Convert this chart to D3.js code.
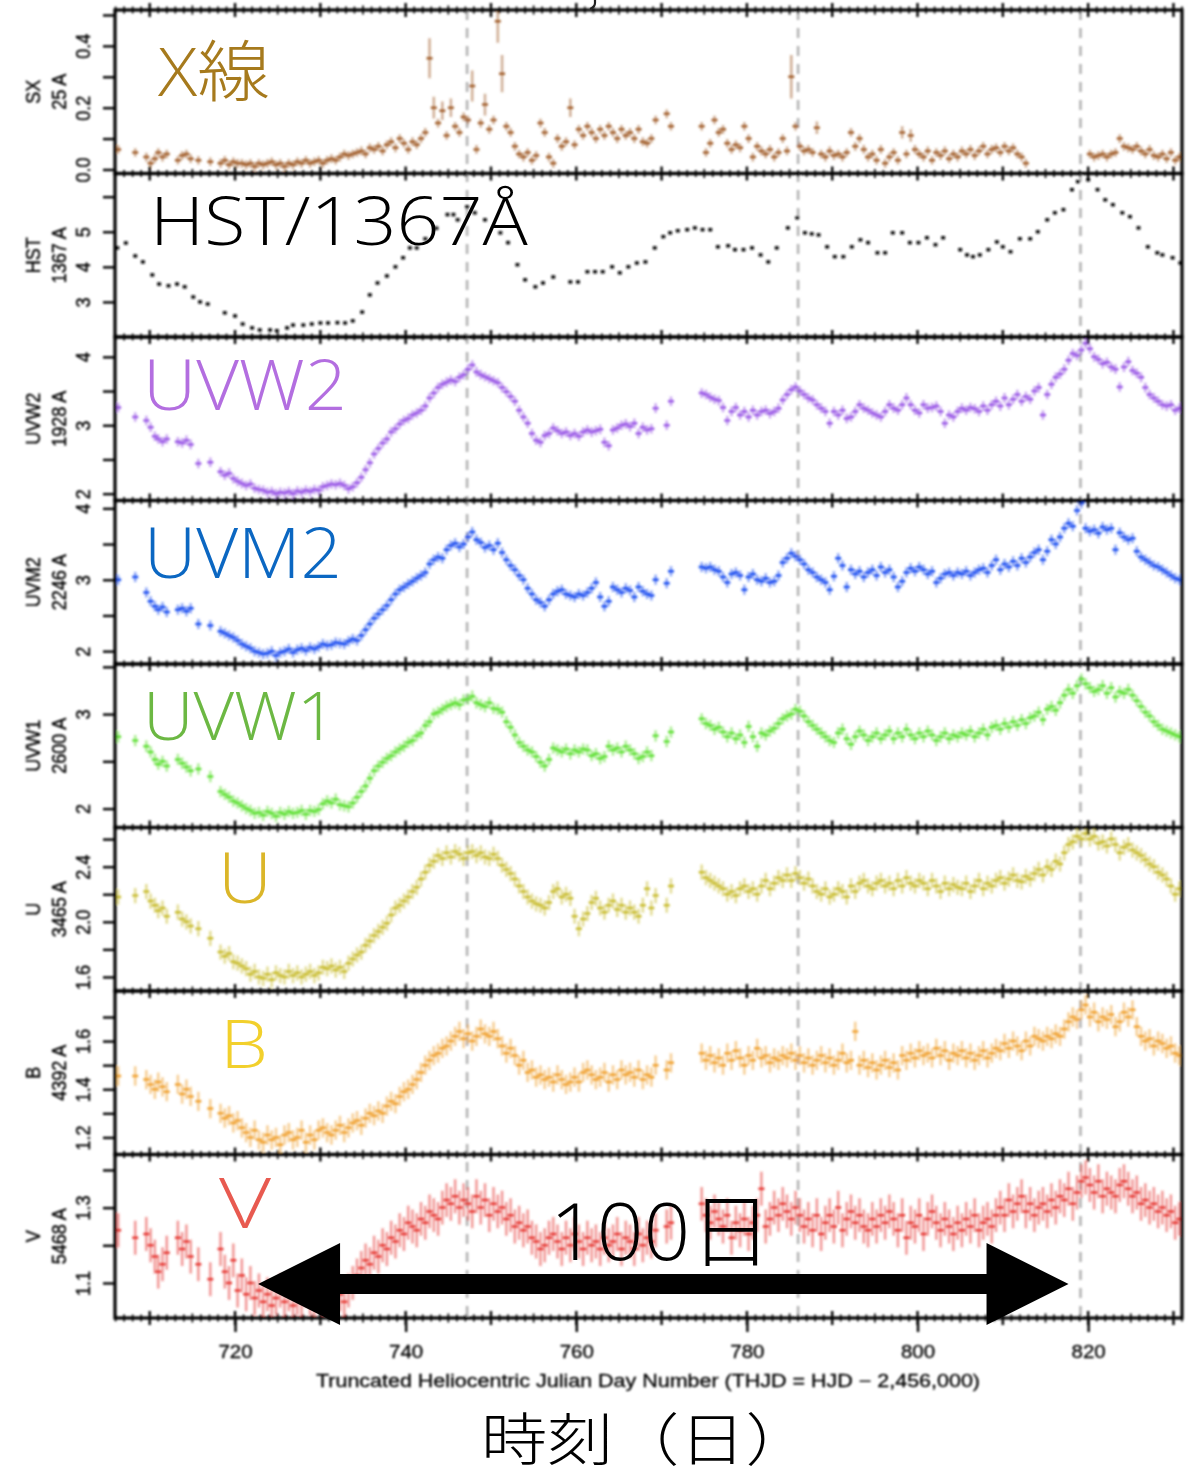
<!DOCTYPE html>
<html>
<head>
<meta charset="utf-8">
<script src="https://cdn.jsdelivr.net/npm/d3@7"></script>
<style>
  body { margin: 0; background: #fff; }
  svg { display: block; }
</style>
</head>
<body>
<svg id="chart" width="1190" height="1477"></svg>
<script>
// ---------------------------------------------------------------------------
// Light curves (THJD = HJD - 2,456,000)
// ---------------------------------------------------------------------------

// Swift epochs shared by the XRT and UVOT bands
const swiftDays = [
  706.3, 708.3, 709.6, 710.1, 710.6, 711.0, 711.5, 712.0, 713.3, 713.8,
  714.3, 714.8, 715.7, 717.1, 718.3, 718.8, 719.3, 719.8, 720.3, 720.8,
  721.3, 721.8, 722.3, 722.8, 723.3, 723.8, 724.3, 724.8, 725.3, 725.8,
  726.3, 726.8, 727.3, 727.8, 728.3, 728.8, 729.3, 729.8, 730.3, 730.8,
  731.3, 731.8, 732.3, 732.8, 733.3, 733.8, 734.3, 734.8, 735.3, 735.8,
  736.3, 736.8, 737.3, 737.8, 738.3, 738.8, 739.3, 739.8, 740.3, 740.8,
  741.3, 741.8, 742.3, 742.8, 743.3, 743.8, 744.3, 744.8, 745.3, 745.8,
  746.3, 746.8, 747.3, 747.8, 748.3, 748.8, 749.3, 749.8, 750.3, 750.8,
  751.3, 751.8, 752.3, 752.8, 753.3, 753.8, 754.3, 754.8, 755.3, 755.8,
  756.3, 756.8, 757.3, 757.8, 758.3, 758.8, 759.3, 759.8, 760.3, 760.8,
  761.3, 761.8, 762.3, 762.8, 763.3, 763.8, 764.3, 764.8, 765.3, 765.8,
  766.3, 766.8, 767.3, 767.8, 768.3, 768.8, 769.3, 770.6, 771.1,
  774.7, 775.2, 775.7, 776.2, 776.7, 777.2, 777.7, 778.2, 778.7, 779.2,
  779.7, 780.2, 780.7, 781.2, 781.7, 782.2, 782.7, 783.2, 783.7, 784.2,
  784.7, 785.2, 785.7, 786.2, 786.7, 787.2, 787.7, 788.2, 788.7, 789.2,
  789.7, 790.2, 790.7, 791.2, 791.7, 792.2, 792.7, 793.2, 793.7, 794.2,
  794.7, 795.2, 795.7, 796.2, 796.7, 797.2, 797.7, 798.2, 798.7, 799.2,
  799.7, 800.2, 800.7, 801.2, 801.7, 802.2, 802.7, 803.2, 803.7, 804.2,
  804.7, 805.2, 805.7, 806.2, 806.7, 807.2, 807.7, 808.2, 808.7, 809.2,
  809.7, 810.2, 810.7, 811.2, 811.7, 812.2, 812.7, 813.2, 813.7, 814.2,
  814.7, 815.2, 815.7, 816.2, 816.7, 817.2, 817.7, 818.2, 818.7, 819.2,
  819.7, 820.2, 820.7, 821.2, 821.7, 822.2, 822.7, 823.2, 823.7, 824.2,
  824.7, 825.2, 825.7, 826.2, 826.7, 827.2, 827.7, 828.2, 828.7, 829.2,
  829.7, 830.2, 830.7
];

// Soft X-ray (25 A); null where XRT has no data
const sxFlux = [
  0.065, 0.055, 0.04, 0.02, 0.035, 0.055, 0.04, 0.05, 0.03, 0.045,
  0.05, 0.035, 0.03, 0.025, 0.02, 0.03, 0.015, 0.025, 0.02, 0.02,
  0.015, 0.02, 0.01, 0.02, 0.015, 0.02, 0.025, 0.015, 0.02, 0.01,
  0.02, 0.015, 0.025, 0.02, 0.03, 0.02, 0.025, 0.03, 0.02, 0.03,
  0.035, 0.03, 0.04, 0.05, 0.045, 0.05, 0.055, 0.06, 0.05, 0.07,
  0.065, 0.075, 0.06, 0.08, 0.09, 0.07, 0.10, 0.085, 0.065, 0.09,
  0.08, 0.10, 0.12, 0.36, 0.20, 0.15, 0.19, 0.11, 0.20, 0.14,
  0.12, 0.17, 0.16, 0.27, 0.065, 0.15, 0.21, 0.13, 0.16, 0.48,
  0.31, 0.14, 0.12, 0.075, 0.05, 0.04, 0.055, 0.03, 0.045, 0.15,
  0.12, 0.04, 0.02, 0.10, 0.075, 0.09, 0.20, 0.08, 0.13, 0.11,
  0.14, 0.12, 0.10, 0.13, 0.11, 0.14, 0.12, 0.10, 0.13, 0.11,
  0.12, 0.10, 0.13, 0.09, 0.085, 0.10, 0.16, 0.18, 0.14,
  0.14, 0.055, 0.085, 0.16, 0.12, 0.13, 0.085, 0.065, 0.08, 0.07,
  0.14, 0.10, 0.04, 0.075, 0.06, 0.05, 0.065, 0.04, 0.055, 0.10,
  0.06, 0.30, 0.14, 0.075, 0.06, 0.065, 0.055, 0.135, 0.05, 0.04,
  0.06, 0.045, 0.05, 0.04, 0.055, 0.12, 0.075, 0.10, 0.065, 0.04,
  0.05, 0.03, 0.065, 0.02, 0.04, 0.055, 0.03, 0.12, 0.05, 0.11,
  0.065, 0.05, 0.04, 0.06, 0.03, 0.055, 0.045, 0.06, 0.035, 0.05,
  0.04, 0.06, 0.05, 0.065, 0.045, 0.06, 0.075, 0.05, 0.065, 0.07,
  0.055, 0.075, 0.06, 0.07, 0.05, 0.04, 0.02, null, null, null,
  null, null, null, null, null, null, null, null, null, null,
  null, 0.05, 0.04, 0.045, 0.05, 0.04, 0.05, 0.055, 0.10, 0.075,
  0.07, 0.065, 0.075, 0.06, 0.05, 0.065, 0.045, 0.04, 0.05, 0.035,
  0.055, 0.03, 0.04
];
// larger X-ray uncertainties during the flares (keyed by epoch)
const sxErrByDay = {
  "742.8": 0.065, "743.3": 0.035, "744.3": 0.03, "745.3": 0.03, "747.8": 0.05,
  "749.3": 0.035, "750.8": 0.07, "751.3": 0.06, "759.3": 0.03, "785.2": 0.07,
  "788.2": 0.02, "798.2": 0.02, "799.2": 0.02
};
const sxErr = 0.014;

const uvw2Flux = [
  3.26, 3.12, 3.07, 2.97, 2.84, 2.80, 2.76, 2.80, 2.76, 2.74,
  2.78, 2.72, 2.44, 2.46, 2.32, 2.27, 2.30, 2.22, 2.18, 2.15,
  2.12, 2.14, 2.08, 2.06, 2.05, 2.02, 2.03, 2.00, 2.02, 2.01,
  2.03, 2.00, 2.04, 2.02, 2.05, 2.03, 2.06, 2.05, 2.10, 2.12,
  2.14, 2.13, 2.15, 2.12, 2.07, 2.10, 2.16, 2.24, 2.35, 2.45,
  2.58, 2.66, 2.74, 2.80, 2.90, 2.95, 3.02, 3.07, 3.10, 3.15,
  3.18, 3.22, 3.28, 3.40, 3.47, 3.55, 3.60, 3.63, 3.66, 3.64,
  3.70, 3.74, 3.82, 3.88, 3.78, 3.74, 3.71, 3.68, 3.65, 3.62,
  3.55, 3.49, 3.42, 3.35, 3.22, 3.12, 3.03, 2.88, 2.78, 2.75,
  2.85, 2.88, 2.96, 2.92, 2.88, 2.90, 2.85, 2.88, 2.84, 2.90,
  2.93, 2.90, 2.92, 2.94, 2.75, 2.70, 2.93, 2.96, 3.00, 3.02,
  2.98, 3.03, 2.88, 2.97, 2.93, 2.95, 3.25, 3.00, 3.35,
  3.47, 3.45, 3.41, 3.38, 3.36, 3.26, 3.07, 3.20, 3.26, 3.15,
  3.20, 3.12, 3.22, 3.15, 3.20, 3.22, 3.17, 3.20, 3.25, 3.37,
  3.45, 3.52, 3.56, 3.50, 3.45, 3.40, 3.37, 3.30, 3.25, 3.20,
  3.03, 3.20, 3.15, 3.22, 3.10, 3.12, 3.20, 3.30, 3.25, 3.22,
  3.18, 3.15, 3.12, 3.20, 3.30, 3.25, 3.22, 3.30, 3.40, 3.30,
  3.22, 3.18, 3.30, 3.25, 3.26, 3.28, 3.20, 3.03, 3.15, 3.12,
  3.20, 3.25, 3.22, 3.26, 3.24, 3.20, 3.28, 3.22, 3.30, 3.35,
  3.28, 3.40, 3.30, 3.38, 3.45, 3.35, 3.42, 3.38, 3.50, 3.55,
  3.15, 3.45, 3.60, 3.70, 3.75, 3.82, 3.95, 4.05, 4.02, 4.10,
  4.20, 4.12, 4.00, 3.96, 3.90, 3.92, 3.85, 3.82, 3.56, 3.85,
  3.93, 3.80, 3.76, 3.70, 3.55, 3.45, 3.40, 3.35, 3.30, 3.28,
  3.30, 3.22, 3.25
];

const uvm2Flux = [
  3.00, 3.04, 2.82, 2.70, 2.63, 2.58, 2.62, 2.55, 2.58, 2.60,
  2.56, 2.60, 2.38, 2.36, 2.28, 2.25, 2.22, 2.19, 2.15, 2.10,
  2.07, 2.04, 2.00, 1.98, 1.96, 1.97, 2.00, 1.94, 1.98, 2.00,
  2.03, 1.98, 2.02, 2.04, 2.01, 2.05, 2.03, 2.06, 2.10, 2.08,
  2.09, 2.12, 2.11, 2.10, 2.14, 2.17, 2.15, 2.22, 2.30, 2.38,
  2.46, 2.52, 2.58, 2.64, 2.72, 2.80, 2.86, 2.90, 2.94, 2.98,
  3.02, 3.06, 3.10, 3.22, 3.28, 3.32, 3.30, 3.42, 3.48, 3.51,
  3.46, 3.50, 3.60, 3.67, 3.56, 3.52, 3.45, 3.48, 3.42, 3.51,
  3.38, 3.28, 3.20, 3.14, 3.06, 3.00, 2.88, 2.80, 2.72, 2.68,
  2.63, 2.72, 2.80, 2.84, 2.86, 2.80, 2.78, 2.76, 2.80, 2.78,
  2.82, 2.88, 2.96, 2.76, 2.63, 2.70, 2.90, 2.86, 2.82, 2.88,
  2.85, 2.76, 2.90, 2.84, 2.80, 2.78, 3.00, 2.95, 3.12,
  3.18, 3.16, 3.18, 3.14, 3.12, 3.04, 2.96, 3.08, 3.10, 3.06,
  2.86, 3.04, 3.08, 3.00, 2.98, 3.02, 2.96, 2.98, 3.06, 3.24,
  3.30, 3.37, 3.33, 3.28, 3.22, 3.14, 3.10, 3.04, 3.00, 2.96,
  2.86, 3.05, 3.30, 3.20, 2.90, 3.14, 3.08, 3.12, 3.04, 3.10,
  3.14, 3.06, 3.18, 3.10, 3.14, 3.04, 2.90, 2.98, 3.10, 3.16,
  3.12, 3.18, 3.14, 3.08, 3.12, 2.96, 3.02, 3.08, 3.10, 3.06,
  3.10, 3.08, 3.12, 3.06, 3.10, 3.14, 3.16, 3.10, 3.20, 3.28,
  3.14, 3.22, 3.18, 3.26, 3.20, 3.30, 3.24, 3.32, 3.38, 3.42,
  3.28, 3.40, 3.56, 3.50, 3.60, 3.72, 3.79, 3.75, 3.97, 4.07,
  3.72, 3.68, 3.70, 3.65, 3.74, 3.70, 3.72, 3.42, 3.66, 3.60,
  3.56, 3.58, 3.40, 3.32, 3.28, 3.24, 3.20, 3.18, 3.14, 3.10,
  3.06, 3.02, 3.00
];

const uvw1Flux = [
  2.76, 2.72, 2.66, 2.60, 2.52, 2.47, 2.50, 2.45, 2.52, 2.48,
  2.44, 2.40, 2.42, 2.34, 2.18, 2.15, 2.12, 2.08, 2.06, 2.03,
  2.00, 1.98, 1.95, 1.96, 1.93, 1.97, 1.95, 1.92, 1.96, 1.94,
  1.97, 1.95, 1.96, 1.98, 1.94, 1.98, 1.97, 1.99, 2.05, 2.08,
  2.06, 2.10, 2.04, 2.03, 2.02, 2.06, 2.12, 2.18, 2.24, 2.32,
  2.40, 2.45, 2.49, 2.53, 2.56, 2.60, 2.63, 2.66, 2.70, 2.72,
  2.77, 2.80, 2.88, 2.92, 3.00, 3.02, 3.05, 3.08, 3.10, 3.12,
  3.10, 3.15, 3.16, 3.19, 3.12, 3.10, 3.08, 3.12, 3.06, 3.05,
  3.02, 2.92, 2.86, 2.78, 2.70, 2.66, 2.62, 2.60, 2.55, 2.49,
  2.45, 2.52, 2.64, 2.62, 2.60, 2.63, 2.58, 2.62, 2.60, 2.63,
  2.62, 2.56, 2.58, 2.53, 2.55, 2.66, 2.62, 2.64, 2.60, 2.66,
  2.62, 2.58, 2.53, 2.55, 2.60, 2.56, 2.77, 2.71, 2.81,
  2.95, 2.90, 2.88, 2.84, 2.86, 2.81, 2.76, 2.80, 2.74, 2.78,
  2.70, 2.87, 2.76, 2.66, 2.80, 2.78, 2.82, 2.85, 2.90, 2.95,
  2.98, 3.00, 3.05, 3.03, 2.98, 2.92, 2.88, 2.84, 2.80, 2.76,
  2.72, 2.70, 2.80, 2.84, 2.74, 2.68, 2.76, 2.82, 2.78, 2.72,
  2.76, 2.80, 2.74, 2.78, 2.82, 2.74, 2.80, 2.76, 2.84, 2.78,
  2.74, 2.80, 2.76, 2.82, 2.78, 2.72, 2.76, 2.80, 2.74, 2.78,
  2.76, 2.80, 2.78, 2.82, 2.76, 2.80, 2.84, 2.78, 2.86, 2.88,
  2.84, 2.90, 2.86, 2.92, 2.88, 2.94, 2.90, 2.96, 2.98, 3.02,
  2.94, 3.05, 3.08, 3.04, 3.12, 3.20, 3.26, 3.22, 3.30, 3.37,
  3.32, 3.28, 3.24, 3.26, 3.30, 3.22, 3.28, 3.18, 3.24, 3.22,
  3.26, 3.20, 3.14, 3.08, 3.02, 2.98, 2.92, 2.88, 2.84, 2.82,
  2.80, 2.78, 2.76
];

const uFlux = [
  2.18, 2.19, 2.22, 2.15, 2.12, 2.08, 2.10, 2.04, 2.07, 2.02,
  2.00, 1.97, 1.95, 1.88, 1.78, 1.75, 1.77, 1.71, 1.70, 1.68,
  1.66, 1.62, 1.64, 1.60, 1.59, 1.62, 1.58, 1.63, 1.61, 1.60,
  1.64, 1.61, 1.63, 1.60, 1.62, 1.64, 1.61, 1.63, 1.67, 1.66,
  1.68, 1.65, 1.67, 1.64, 1.70, 1.73, 1.76, 1.78, 1.83, 1.86,
  1.90, 1.93, 1.96, 1.99, 2.05, 2.10, 2.12, 2.15, 2.18, 2.22,
  2.25, 2.31, 2.36, 2.41, 2.44, 2.48, 2.46, 2.50, 2.47, 2.51,
  2.49, 2.46, 2.50, 2.51, 2.48, 2.50, 2.47, 2.46, 2.49, 2.46,
  2.41, 2.38, 2.35, 2.31, 2.26, 2.22, 2.18, 2.15, 2.13, 2.12,
  2.10, 2.14, 2.22, 2.24, 2.18, 2.20, 2.17, 2.04, 1.95, 2.02,
  2.06, 2.14, 2.17, 2.10, 2.07, 2.12, 2.15, 2.09, 2.12, 2.07,
  2.10, 2.07, 2.04, 2.12, 2.24, 2.10, 2.19, 2.12, 2.26,
  2.36, 2.32, 2.30, 2.28, 2.26, 2.24, 2.20, 2.22, 2.19, 2.24,
  2.26, 2.22, 2.24, 2.20, 2.26, 2.30, 2.24, 2.28, 2.32, 2.30,
  2.34, 2.30, 2.35, 2.32, 2.28, 2.31, 2.26, 2.22, 2.20, 2.24,
  2.18, 2.20, 2.24, 2.22, 2.18, 2.26, 2.22, 2.28, 2.30, 2.26,
  2.24, 2.28, 2.30, 2.26, 2.28, 2.24, 2.30, 2.26, 2.32, 2.28,
  2.26, 2.30, 2.28, 2.24, 2.30, 2.26, 2.22, 2.28, 2.24, 2.27,
  2.25, 2.24, 2.28, 2.22, 2.26, 2.30, 2.24, 2.28, 2.26, 2.30,
  2.32, 2.28, 2.31, 2.34, 2.30, 2.29, 2.33, 2.31, 2.35, 2.38,
  2.34, 2.40, 2.38, 2.44, 2.42, 2.50, 2.56, 2.58, 2.62, 2.60,
  2.64, 2.60, 2.62, 2.57, 2.58, 2.55, 2.60, 2.56, 2.50, 2.54,
  2.56, 2.52, 2.50, 2.48, 2.45, 2.42, 2.40, 2.36, 2.34, 2.31,
  2.26, 2.20, 2.24
];

const bFlux = [
  1.455, 1.455, 1.44, 1.42, 1.40, 1.43, 1.41, 1.39, 1.42, 1.38,
  1.40, 1.37, 1.35, 1.32, 1.30, 1.28, 1.29, 1.26, 1.27, 1.24,
  1.22, 1.20, 1.23, 1.19, 1.18, 1.21, 1.19, 1.20, 1.17, 1.21,
  1.22, 1.19, 1.20, 1.23, 1.18, 1.21, 1.19, 1.23, 1.24, 1.22,
  1.21, 1.23, 1.25, 1.22, 1.24, 1.26, 1.27, 1.25, 1.28, 1.30,
  1.29, 1.31, 1.30, 1.33, 1.35, 1.34, 1.37, 1.39, 1.40, 1.42,
  1.44, 1.47, 1.50, 1.52, 1.54, 1.55, 1.57, 1.58, 1.60, 1.62,
  1.64, 1.61, 1.63, 1.60, 1.62, 1.65, 1.63, 1.62, 1.64, 1.61,
  1.58, 1.55, 1.57, 1.54, 1.50, 1.52, 1.47, 1.48, 1.45, 1.46,
  1.44, 1.45, 1.43, 1.46, 1.44, 1.42, 1.43, 1.45, 1.43, 1.47,
  1.48, 1.46, 1.44, 1.45, 1.47, 1.43, 1.46, 1.44, 1.48, 1.46,
  1.47, 1.45, 1.48, 1.44, 1.46, 1.45, 1.50, 1.48, 1.51,
  1.55, 1.52, 1.54, 1.51, 1.53, 1.50, 1.55, 1.52, 1.56, 1.53,
  1.50, 1.54, 1.52, 1.57, 1.53, 1.54, 1.51, 1.53, 1.52, 1.54,
  1.53, 1.55, 1.52, 1.54, 1.51, 1.53, 1.50, 1.52, 1.54, 1.51,
  1.53, 1.50, 1.52, 1.55, 1.51, 1.52, 1.64, 1.50, 1.52, 1.49,
  1.51, 1.48, 1.50, 1.52, 1.49, 1.51, 1.48, 1.54, 1.52, 1.55,
  1.53, 1.56, 1.54, 1.55, 1.53, 1.57, 1.54, 1.56, 1.52, 1.55,
  1.54, 1.56, 1.53, 1.55, 1.52, 1.54, 1.56, 1.53, 1.55, 1.57,
  1.56, 1.59, 1.57, 1.60, 1.58, 1.56, 1.60, 1.58, 1.62, 1.61,
  1.60, 1.62, 1.61, 1.63, 1.62, 1.65, 1.68, 1.70, 1.69, 1.73,
  1.75, 1.70, 1.72, 1.68, 1.70, 1.69, 1.71, 1.66, 1.68, 1.72,
  1.70, 1.73, 1.66, 1.62, 1.60, 1.61, 1.58, 1.60, 1.59, 1.57,
  1.58, 1.55, 1.54
];

const vFlux = [
  1.24, 1.22, 1.23, 1.20, 1.17, 1.13, 1.15, 1.18, 1.22, 1.19,
  1.21, 1.17, 1.15, 1.11, 1.19, 1.13, 1.10, 1.16, 1.08, 1.12,
  1.07, 1.10, 1.06, 1.08, 1.05, 1.07, 1.04, 1.06, 1.08, 1.05,
  1.07, 1.04, 1.06, 1.05, 1.08, 1.06, 1.04, 1.07, 1.05, 1.08,
  1.06, 1.09, 1.07, 1.05, 1.08, 1.10, 1.12, 1.14, 1.16, 1.15,
  1.18, 1.17, 1.20, 1.19, 1.22, 1.21, 1.24, 1.23, 1.26, 1.25,
  1.24, 1.27, 1.26, 1.29, 1.28, 1.27, 1.30, 1.32, 1.31, 1.33,
  1.30, 1.32, 1.31, 1.29, 1.33, 1.30, 1.32, 1.28, 1.31, 1.29,
  1.30, 1.27, 1.28, 1.25, 1.26, 1.24, 1.25, 1.22, 1.21, 1.19,
  1.20, 1.22, 1.23, 1.21, 1.19, 1.22, 1.20, 1.23, 1.21, 1.19,
  1.22, 1.20, 1.21, 1.19, 1.22, 1.20, 1.21, 1.23, 1.19, 1.22,
  1.21, 1.19, 1.23, 1.20, 1.22, 1.21, 1.24, 1.25, 1.26,
  1.31, 1.28, 1.26, 1.29, 1.27, 1.25, 1.28, 1.22, 1.26, 1.24,
  1.27, 1.23, 1.26, 1.28, 1.35, 1.25, 1.27, 1.30, 1.28, 1.31,
  1.29, 1.27, 1.30, 1.28, 1.25, 1.27, 1.24, 1.28, 1.23, 1.26,
  1.28, 1.25, 1.30, 1.24, 1.27, 1.29, 1.26, 1.28, 1.25, 1.24,
  1.27, 1.25, 1.28, 1.26, 1.29, 1.27, 1.24, 1.28, 1.22, 1.26,
  1.25, 1.28, 1.23, 1.27, 1.29, 1.26, 1.24, 1.27, 1.25, 1.23,
  1.26, 1.24, 1.27, 1.25, 1.28, 1.24, 1.26, 1.27, 1.25, 1.28,
  1.30, 1.28, 1.32, 1.29, 1.31, 1.33, 1.29, 1.31, 1.28, 1.30,
  1.31, 1.29, 1.32, 1.30, 1.33, 1.32, 1.35, 1.31, 1.34, 1.37,
  1.38, 1.36, 1.34, 1.37, 1.33, 1.35, 1.34, 1.33, 1.36, 1.37,
  1.35, 1.33, 1.34, 1.31, 1.32, 1.30, 1.31, 1.29, 1.30, 1.28,
  1.29, 1.26, 1.27
];

// HST/COS continuum at 1367 A (roughly daily visits)
const hstDays = [
  706.2, 707.2, 708.3, 709.2, 710.3, 711.1, 712.2, 713.2, 714.1, 715.1,
  715.9, 716.8, 718.8, 720.0, 720.9, 722.0, 722.9, 724.1, 724.9, 726.1,
  726.8, 728.0, 729.0, 730.0, 730.9, 732.0, 732.9, 733.8, 734.9, 735.8,
  736.7, 737.8, 738.8, 739.7, 740.5, 741.3, 742.3, 743.6, 744.9, 745.6,
  746.1, 747.2, 748.1, 749.3, 751.1, 752.0, 753.1, 754.0, 755.2, 756.1,
  757.3, 759.3, 760.2, 761.3, 762.2, 763.1, 764.2, 765.1, 766.1, 767.1,
  768.1, 769.2, 770.2, 771.0, 771.9, 773.0, 773.9, 774.8, 775.7, 776.6,
  777.8, 778.6, 779.6, 780.6, 781.6, 782.5, 783.5, 784.8, 785.9, 786.8,
  787.6, 788.4, 789.4, 790.3, 791.3, 792.3, 793.3, 794.2, 795.3, 796.2,
  797.1, 798.2, 799.1, 800.1, 801.1, 802.1, 803.0, 805.0, 805.8, 806.5,
  807.3, 808.3, 809.3, 810.0, 810.9, 812.0, 813.2, 814.1, 815.2, 816.1,
  817.1, 818.1, 818.8, 820.0, 821.1, 822.0, 822.9, 824.0, 824.9, 825.9,
  827.0, 828.1, 828.7, 829.9, 830.8
];
const hstFlux = [
  4.54, 4.68, 4.31, 4.14, 3.77, 3.51, 3.46, 3.51, 3.43, 3.14,
  3.00, 2.94, 2.69, 2.60, 2.37, 2.26, 2.20, 2.20, 2.18, 2.26,
  2.34, 2.34, 2.37, 2.40, 2.40, 2.41, 2.40, 2.46, 2.71, 3.20,
  3.54, 3.74, 4.00, 4.26, 4.54, 4.54, 4.80, 5.10, 5.49, 5.49,
  5.34, 5.71, 5.54, 5.34, 4.97, 4.69, 4.06, 3.63, 3.43, 3.54,
  3.71, 3.57, 3.57, 3.86, 3.86, 3.86, 4.00, 3.83, 4.00, 4.11,
  4.14, 4.54, 4.86, 4.97, 5.03, 5.06, 5.11, 5.06, 5.06, 4.57,
  4.60, 4.49, 4.49, 4.54, 4.34, 4.14, 4.54, 5.11, 5.40, 4.97,
  4.94, 4.91, 4.57, 4.29, 4.29, 4.57, 4.77, 4.69, 4.40, 4.40,
  4.97, 4.97, 4.69, 4.69, 4.83, 4.63, 4.83, 4.49, 4.34, 4.29,
  4.34, 4.49, 4.71, 4.57, 4.43, 4.80, 4.80, 5.00, 5.34, 5.54,
  5.63, 6.20, 6.43, 6.48, 6.20, 5.91, 5.77, 5.54, 5.43, 5.11,
  4.57, 4.40, 4.34, 4.26, 4.11
];

// Axis ticks and labels for each panel
const sxTicks = [0, 0.1, 0.2, 0.3, 0.4, 0.5];
const sxTickLabels = ["0.0", "", "0.2", "", "0.4", ""];
const hstTicks = [3, 4, 5, 6];
const hstTickLabels = ["3", "4", "5", ""];
const uvw2Ticks = [2, 2.5, 3, 3.5, 4];
const uvw2TickLabels = ["2", "", "3", "", "4"];
const uvm2Ticks = [2, 2.5, 3, 3.5, 4];
const uvm2TickLabels = ["2", "", "3", "", "4"];
const uvw1Ticks = [2, 2.5, 3, 3.5];
const uvw1TickLabels = ["2", "", "3", ""];
const uTicks = [1.6, 1.8, 2.0, 2.2, 2.4, 2.6];
const uTickLabels = ["1.6", "", "2.0", "", "2.4", ""];
const bTicks = [1.2, 1.3, 1.4, 1.5, 1.6, 1.7];
const bTickLabels = ["1.2", "", "1.4", "", "1.6", ""];
const vTicks = [1.1, 1.2, 1.3, 1.4];
const vTickLabels = ["1.1", "", "1.3", ""];

const dayTicks = [720, 740, 760, 780, 800, 820];
const dayTickLabels = ["720", "740", "760", "780", "800", "820"];

// Epochs marked with dashed guide lines
const guideDays = [747.2, 786.0, 819.1];

// Span of the annotated double arrow (days)
const spanStart = 722.7;
const spanEnd = 817.7;

// ---------------------------------------------------------------------------
// Layout
// ---------------------------------------------------------------------------
const svg = d3.select("#chart");
const plotLeft = 115, plotRight = 1182, plotTop = 10, panelH = 163.5;
const axisFont = "'Liberation Sans', Arial, Helvetica, sans-serif";
const labelFont = "'Open Sans', 'Noto Sans CJK JP', sans-serif";
const cjkFont = "'Noto Sans CJK JP', sans-serif";
const wide = 1.14;   // horizontal stretch of the axis lettering

const x = d3.scaleLinear().domain([705.93, 831.0]).range([plotLeft, plotRight]);

const panels = [
  { title: ["SX", "25 A"], days: swiftDays, vals: sxFlux, err: (t) => sxErrByDay[String(t)] ?? sxErr,
    color: "#a3612f", domain: [-0.013, 0.516], ticks: sxTicks, labels: sxTickLabels },
  { title: ["HST", "1367 A"], days: hstDays, vals: hstFlux, err: () => 0.05, dots: true,
    color: "#111", domain: [2.0, 6.66], ticks: hstTicks, labels: hstTickLabels },
  { title: ["UVW2", "1928 A"], days: swiftDays, vals: uvw2Flux, err: () => 0.07,
    color: "#9a58e6", domain: [1.90, 4.29], ticks: uvw2Ticks, labels: uvw2TickLabels },
  { title: ["UVM2", "2246 A"], days: swiftDays, vals: uvm2Flux, err: () => 0.07,
    color: "#1f4ff0", domain: [1.82, 4.11], ticks: uvm2Ticks, labels: uvm2TickLabels },
  { title: ["UVW1", "2600 A"], days: swiftDays, vals: uvw1Flux, err: () => 0.06,
    color: "#5fe034", domain: [1.80, 3.53], ticks: uvw1Ticks, labels: uvw1TickLabels },
  { title: ["U", "3465 A"], days: swiftDays, vals: uFlux, err: () => 0.055,
    color: "#c9bd33", domain: [1.498, 2.684], ticks: uTicks, labels: uTickLabels },
  { title: ["B", "4392 A"], days: swiftDays, vals: bFlux, err: () => 0.04,
    color: "#f0a233", domain: [1.129, 1.808], ticks: bTicks, labels: bTickLabels },
  { title: ["V", "5468 A"], days: swiftDays, vals: vFlux, err: () => 0.045,
    color: "#e63a36", domain: [1.007, 1.441], ticks: vTicks, labels: vTickLabels }
];

const defs = svg.append("defs");
defs.append("filter").attr("id", "soft")
  .attr("x", "-2%").attr("y", "-2%").attr("width", "104%").attr("height", "104%")
  .append("feGaussianBlur").attr("stdDeviation", 0.85);

const plot = svg.append("g").attr("filter", "url(#soft)");
const plotBottom = plotTop + panelH * panels.length;

// dashed guide lines behind the data
plot.append("g").selectAll("line").data(guideDays).join("line")
  .attr("x1", d => x(d)).attr("x2", d => x(d))
  .attr("y1", plotTop).attr("y2", plotBottom)
  .attr("stroke", "#b4b4b4").attr("stroke-width", 2.6)
  .attr("stroke-dasharray", "10,8");

panels.forEach((p, i) => {
  const top = plotTop + i * panelH;
  const bottom = top + panelH;
  const y = d3.scaleLinear().domain(p.domain).range([bottom, top]);
  const g = plot.append("g");

  const clipId = "clip" + i;
  defs.append("clipPath").attr("id", clipId)
    .append("rect").attr("x", plotLeft).attr("y", top).attr("width", plotRight - plotLeft).attr("height", panelH);

  const pts = p.days.map((t, k) => ({ t, v: p.vals[k], e: p.err(t) })).filter(d => d.v != null);
  const data = g.append("g").attr("clip-path", `url(#${clipId})`);

  if (p.dots) {
    data.append("g").selectAll("line").data(pts).join("line")
      .attr("x1", d => x(d.t)).attr("x2", d => x(d.t))
      .attr("y1", d => y(d.v - d.e)).attr("y2", d => y(d.v + d.e))
      .attr("stroke", p.color).attr("stroke-width", 1.3).attr("stroke-opacity", 0.6);
    data.append("g").selectAll("rect").data(pts).join("rect")
      .attr("x", d => x(d.t) - 2).attr("y", d => y(d.v) - 1.7)
      .attr("width", 4).attr("height", 3.4).attr("fill", p.color);
  } else {
    data.append("g").selectAll("line").data(pts).join("line")
      .attr("x1", d => x(d.t)).attr("x2", d => x(d.t))
      .attr("y1", d => y(d.v - d.e)).attr("y2", d => y(d.v + d.e))
      .attr("stroke", p.color).attr("stroke-width", 2.6).attr("stroke-opacity", 0.5);
    data.append("g").selectAll("line").data(pts).join("line")
      .attr("x1", d => x(d.t) - 3).attr("x2", d => x(d.t) + 3)
      .attr("y1", d => y(d.v)).attr("y2", d => y(d.v))
      .attr("stroke", p.color).attr("stroke-width", 2.5);
  }

  // left axis with rotated labels
  const yAxis = d3.axisLeft(y).tickValues(p.ticks).tickSize(12)
    .tickFormat((d, k) => p.labels[k]);
  const ax = g.append("g").attr("transform", `translate(${plotLeft},0)`).call(yAxis);
  ax.select(".domain").remove();
  ax.selectAll(".tick line").attr("stroke", "#000").attr("stroke-width", 2.4);
  ax.selectAll(".tick text")
    .attr("x", null).attr("y", null).attr("dy", null)
    .attr("text-anchor", "middle")
    .attr("transform", `translate(-25,0) scale(${wide},1) rotate(-90)`)
    .attr("font-family", axisFont).attr("font-size", 18).attr("fill", "#000")
    .attr("stroke", "#000").attr("stroke-width", 0.35);

  // two-line rotated panel title
  const midY = (top + bottom) / 2;
  p.title.forEach((line, k) => {
    g.append("text")
      .attr("transform", `translate(${k === 0 ? 40 : 66},${midY}) scale(${wide},1) rotate(-90)`)
      .attr("text-anchor", "middle")
      .attr("font-family", axisFont).attr("font-size", 18).attr("fill", "#000")
      .attr("stroke", "#000").attr("stroke-width", 0.35)
      .text(line);
  });
});

// minor / major day ticks crossing every horizontal frame line
const tickDays = d3.range(706, 832, 1);
const frameYs = d3.range(panels.length + 1).map(k => plotTop + k * panelH);
frameYs.forEach(fy => {
  plot.append("g").selectAll("line").data(tickDays).join("line")
    .attr("x1", d => x(d)).attr("x2", d => x(d))
    .attr("y1", d => fy - (d % 10 === 0 ? 7 : d % 5 === 0 ? 4.5 : 3.4))
    .attr("y2", d => fy + (d % 10 === 0 ? 7 : d % 5 === 0 ? 4.5 : 3.4))
    .attr("stroke", "#000").attr("stroke-width", d => d % 10 === 0 ? 2.4 : 1.7);
});

// panel frames
panels.forEach((p, i) => {
  plot.append("rect")
    .attr("x", plotLeft).attr("y", plotTop + i * panelH)
    .attr("width", plotRight - plotLeft).attr("height", panelH)
    .attr("fill", "none").attr("stroke", "#000").attr("stroke-width", 3.2);
});

// bottom time axis
const xAxis = d3.axisBottom(x).tickValues(dayTicks).tickSize(14).tickPadding(13)
  .tickFormat((d, k) => dayTickLabels[k]);
const xa = plot.append("g").attr("transform", `translate(0,${plotBottom})`).call(xAxis);
xa.select(".domain").remove();
xa.selectAll(".tick line").attr("stroke", "#000").attr("stroke-width", 2.4);
xa.selectAll(".tick text").attr("font-family", axisFont).attr("font-size", 18).attr("fill", "#000")
  .attr("stroke", "#000").attr("stroke-width", 0.3)
  .attr("transform", `scale(${wide},1)`);

plot.append("text")
  .attr("x", 316).attr("y", 1387)
  .attr("textLength", 664).attr("lengthAdjust", "spacingAndGlyphs")
  .attr("font-family", axisFont).attr("font-size", 18).attr("fill", "#000")
  .attr("stroke", "#000").attr("stroke-width", 0.3)
  .text("Truncated Heliocentric Julian Day Number (THJD = HJD \u2212 2,456,000)");

// tail of a heading cut by the top edge
svg.append("path")
  .attr("d", "M595,0 L595,3 Q595,7 590,9")
  .attr("fill", "none").attr("stroke", "#222").attr("stroke-width", 2.2);

// ---------------------------------------------------------------------------
// Overlaid annotations
// ---------------------------------------------------------------------------
const notes = svg.append("g").attr("font-weight", 300);

// stretch a label horizontally so that it spans the given width
function fitWidth(sel, width) {
  const natural = sel.node().getComputedTextLength();
  const k = width / natural;
  const t = sel.attr("data-pos");
  sel.attr("transform", `${t} scale(${k},1)`);
}

const bandNames = [
  { text: "X線", x: 158, y: 96, size: 67, width: 112, color: "#a67a1d" },
  { text: "HST/1367Å", x: 150, y: 245, size: 67, width: 378, color: "#000" },
  { text: "UVW2", x: 143, y: 410, size: 70, width: 204, color: "#b36ee0" },
  { text: "UVM2", x: 144, y: 578, size: 70, width: 198, color: "#0b67c2" },
  { text: "UVW1", x: 143, y: 740, size: 67, width: 194, color: "#6cb843" },
  { text: "U", x: 218, y: 903, size: 70, width: 54, color: "#dbb629" },
  { text: "B", x: 220, y: 1068, size: 67, width: 48, color: "#f2d02c" },
  { text: "V", x: 219, y: 1228, size: 70, width: 52, color: "#e85a50" }
];
bandNames.forEach(n => {
  const t = notes.append("text")
    .attr("data-pos", `translate(${n.x},${n.y})`)
    .attr("transform", `translate(${n.x},${n.y})`)
    .attr("font-family", labelFont)
    .attr("font-size", n.size).attr("fill", n.color).text(n.text);
  fitWidth(t, n.width);
});

// double-headed arrow spanning the campaign
const ay = 1284, half = 10, headLen = 82, headHalf = 41;
const ax0 = x(spanStart), ax1 = x(spanEnd);
notes.append("path")
  .attr("d", [
    `M${ax0},${ay}`,
    `L${ax0 + headLen},${ay - headHalf}`,
    `L${ax0 + headLen},${ay - half}`,
    `L${ax1 - headLen},${ay - half}`,
    `L${ax1 - headLen},${ay - headHalf}`,
    `L${ax1},${ay}`,
    `L${ax1 - headLen},${ay + headHalf}`,
    `L${ax1 - headLen},${ay + half}`,
    `L${ax0 + headLen},${ay + half}`,
    `L${ax0 + headLen},${ay + headHalf}`,
    "Z"
  ].join(""))
  .attr("fill", "#000");

const spanLabel = notes.append("text")
  .attr("data-pos", "translate(550,1260)")
  .attr("transform", "translate(550,1260)")
  .attr("font-family", labelFont)
  .attr("font-size", 80).attr("fill", "#000")
  .text("100日");
fitWidth(spanLabel, 222);

notes.append("text")
  .attr("transform", "translate(481,1460) scale(1.16,1)")
  .attr("font-family", cjkFont)
  .attr("font-size", 57).attr("fill", "#000")
  .text("時刻（日）");
</script>
</body>
</html>
